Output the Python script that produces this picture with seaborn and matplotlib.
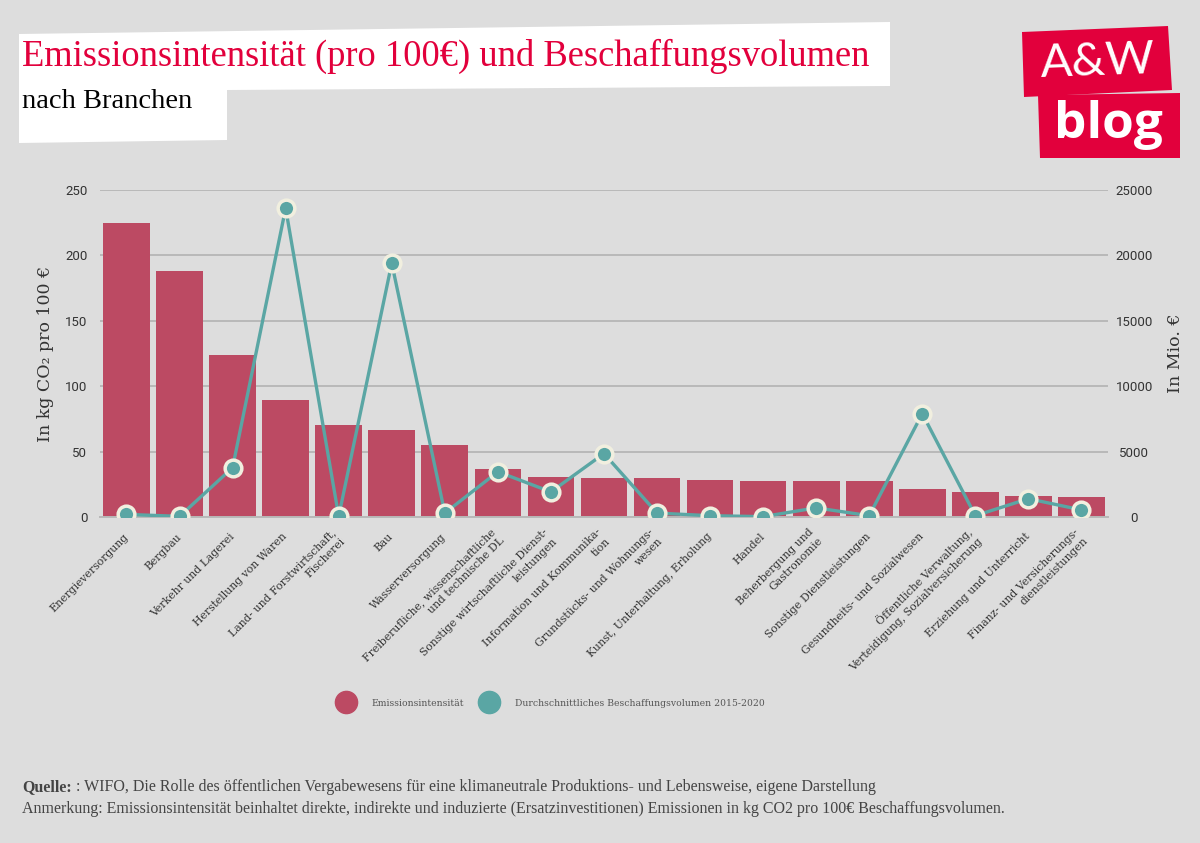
import numpy as np
import pandas as pd
import matplotlib
matplotlib.use("Agg")
import matplotlib.pyplot as plt
from matplotlib.patches import Polygon
from matplotlib.lines import Line2D
import seaborn as sb

# data
branchen = ["Energieversorgung", "Bergbau", "Verkehr und Lagerei", "Herstellung von Waren",
            "Land- und Forstwirtschaft,\nFischerei", "Bau", "Wasserversorgung",
            "Freiberufliche, wissenschaftliche\nund technische DL",
            "Sonstige wirtschaftliche Dienst-\nleistungen", "Information und Kommunika-\ntion",
            "Grundstücks- und Wohnungs-\nwesen", "Kunst, Unterhaltung, Erholung", "Handel",
            "Beherbergung und\nGastronomie", "Sonstige Dienstleistungen",
            "Gesundheits- und Sozialwesen",
            "Öffentliche Verwaltung,\nVerteidigung, Sozialversicherung",
            "Erziehung und Unterricht", "Finanz- und Versicherungs-\ndienstleistungen"]
emission = [225, 188, 124, 89.5, 70, 66.5, 55, 36.7, 30.6, 29.8, 29.8, 28.3, 27.5, 27.5, 27.5,
            21.4, 19, 16, 15.3]
volumen = [200, 50, 3770, 23600, 50, 19400, 300, 3460, 1920, 4850, 300, 100, 30, 700, 100,
           7900, 100, 1400, 540]
left_ticks = [0, 50, 100, 150, 200, 250]
right_ticks = [0, 5000, 10000, 15000, 20000, 25000]

bg = "#dddddd"
bar_col = "#bc4a63"
line_col = "#5aa6a4"
cream = "#f1efdf"
red = "#e2003c"
txt = "#333333"

sb.set_style("white")
plt.rcParams["font.family"] = ["DejaVu Serif", "DejaVu Sans"]

fig = plt.figure(figsize=(12, 8.43), dpi=100, facecolor=bg)
ax = fig.add_axes([0.0833, 0.3867, 0.84, 0.388])
ax.set_facecolor(bg)

df = pd.DataFrame({"Branche": branchen, "Emission": emission, "Volumen": volumen})

sb.barplot(data=df, x="Branche", y="Emission", color=bar_col, saturation=1, width=0.88, ax=ax,
           linewidth=0, zorder=2)
ax.set_ylim(0, 250)
ax.set_yticks(left_ticks)
ax.grid(axis="y", color="#b8b8b8", linewidth=1.4, zorder=0)
ax.set_axisbelow(True)
for s in ["top", "right", "left"]:
    ax.spines[s].set_visible(False)
ax.spines["bottom"].set_color("#b8b8b8")
ax.spines["bottom"].set_linewidth(1.4)
ax.tick_params(axis="y", length=0, pad=9, labelsize=9.5, labelcolor=txt)
for lab in ax.get_yticklabels():
    lab.set_family("Roboto")
ax.set_ylabel("In kg CO₂ pro 100 €", fontsize=12.5, color=txt, labelpad=8)
ax.set_xlabel("")

ax2 = ax.twinx()
sb.pointplot(data=df, x="Branche", y="Volumen", color=line_col, errorbar=None, ax=ax2,
             markers="o", markersize=12, markeredgecolor=cream, markeredgewidth=2.5,
             linewidth=2.4)
ax2.set_ylim(0, 25000)
ax2.set_yticks(right_ticks)
for s in ["top", "right", "left", "bottom"]:
    ax2.spines[s].set_visible(False)
ax2.tick_params(axis="y", length=0, pad=19, labelsize=9.5, labelcolor=txt)
for lab in ax2.get_yticklabels():
    lab.set_family("Roboto")
    lab.set_horizontalalignment("center")
ax2.set_ylabel("In Mio. €", fontsize=12.5, color=txt, labelpad=10)
ax2.set_xlabel("")
ax2.grid(False)

ax.set_xlim(-0.5, len(branchen) - 0.5)
ax.set_xticks(range(len(branchen)))
ax.set_xticklabels(branchen, rotation=45, ha="right", va="center", rotation_mode="anchor",
                   fontsize=7.8, color=txt, linespacing=1.35)
ax.tick_params(axis="x", length=0, pad=13)

# legend
handles = [Line2D([], [], ls="", marker="o", markersize=16, color=bar_col),
           Line2D([], [], ls="", marker="o", markersize=16, color=line_col)]
fig.legend(handles, ["Emissionsintensität", "Durchschnittliches Beschaffungsvolumen 2015-2020"],
           loc="center", bbox_to_anchor=(0.459, 0.166), ncol=2, frameon=False,
           fontsize=6.7, labelcolor="#555555", handletextpad=1.8, columnspacing=1.7)


def px(pts):
    return [(x / 1200, 1 - y / 843) for x, y in pts]


# title box
fig.add_artist(Polygon(px([(19, 34), (890, 22), (890, 86), (227, 90), (227, 140), (19, 143)]),
                       closed=True, facecolor="white", edgecolor="none",
                       transform=fig.transFigure))
fig.text(22 / 1200, 1 - 56 / 843, "Emissionsintensität (pro 100€) und Beschaffungsvolumen",
         fontsize=26.3, color=red, family="Liberation Serif", va="center")
fig.text(22 / 1200, 1 - 101 / 843, "nach Branchen", fontsize=20.5, color="black",
         family="Liberation Serif", va="center")

# logo
fig.add_artist(Polygon(px([(1022, 32), (1168, 26), (1172, 90), (1024, 97)]), closed=True,
                       facecolor=red, edgecolor="none", transform=fig.transFigure))
fig.add_artist(Polygon(px([(1038, 95), (1180, 93), (1180, 158), (1040, 158)]), closed=True,
                       facecolor=red, edgecolor="none", transform=fig.transFigure))
fig.text(1098 / 1200, 1 - 62 / 843, "A&W", fontsize=34, color="white", family="Lato",
         ha="center", va="center", rotation=2)
fig.text(1108 / 1200, 1 - 125 / 843, "blog", fontsize=37, color="white", family="Open Sans",
         weight="bold", ha="center", va="center")

# footer
q = fig.text(22 / 1200, 1 - 787 / 843, "Quelle:", fontsize=11.5, color="#444444",
             family="Liberation Serif", weight="bold", va="center")
ax.annotate(" : WIFO, Die Rolle des öffentlichen Vergabewesens für eine klimaneutrale "
            "Produktions- und Lebensweise, eigene Darstellung",
            xy=(1, 0.5), xycoords=q, va="center", fontsize=11.5, color="#444444",
            family="Liberation Serif", annotation_clip=False)
fig.text(22 / 1200, 1 - 809 / 843,
         "Anmerkung: Emissionsintensität beinhaltet direkte, indirekte und induzierte "
         "(Ersatzinvestitionen) Emissionen in kg CO2 pro 100€ Beschaffungsvolumen.",
         fontsize=11.5, color="#444444", family="Liberation Serif", va="center")

plt.savefig("out.png", dpi=100, facecolor=bg)
